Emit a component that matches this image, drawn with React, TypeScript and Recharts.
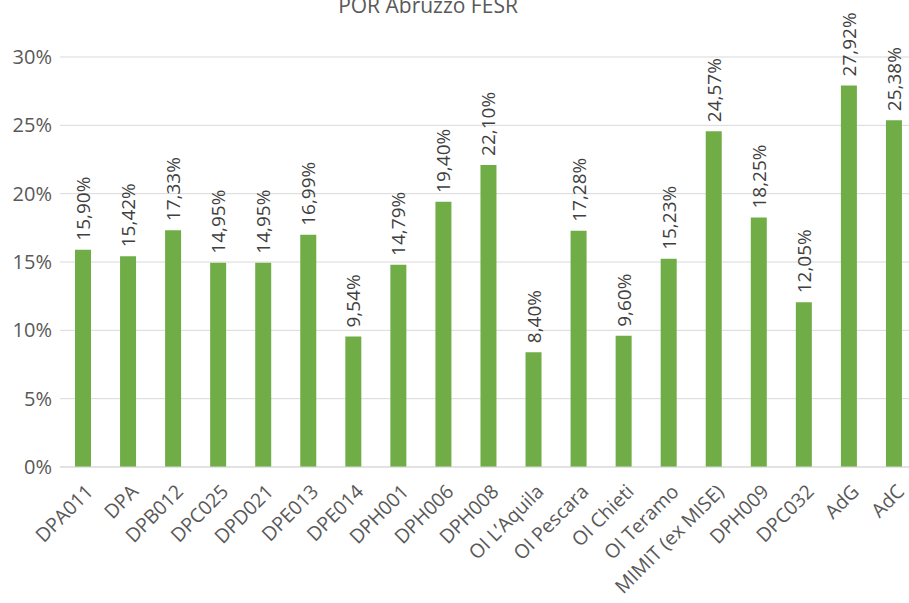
import { BarChart, Bar, XAxis, YAxis, CartesianGrid, LabelList } from "recharts";

const categories = [
  "DPA011", "DPA", "DPB012", "DPC025", "DPD021", "DPE013", "DPE014", "DPH001", "DPH006", "DPH008",
  "OI L’Aquila", "OI Pescara", "OI Chieti", "OI Teramo", "MIMIT (ex MISE)", "DPH009", "DPC032", "AdG", "AdC",
];
const percentages = [
  15.9, 15.42, 17.33, 14.95, 14.95, 16.99, 9.54, 14.79, 19.4, 22.1,
  8.4, 17.28, 9.6, 15.23, 24.57, 18.25, 12.05, 27.92, 25.38,
];
const yTicks = [0, 5, 10, 15, 20, 25, 30];

const data = categories.map((name, i) => ({ name, value: percentages[i] }));

const FONT = "'Open Sans', 'DejaVu Sans', sans-serif";

const fmt = (v: number) => v.toFixed(2).replace(".", ",") + "%";

function XTick(props: any) {
  const { x, y, payload } = props;
  const ax = x;
  const ay = y + 6;
  return (
    <text
      x={ax}
      y={ay}
      transform={`rotate(-45, ${ax}, ${ay})`}
      textAnchor="end"
      dominantBaseline="hanging"
      fill="#595959"
      fontSize={19.5}
      fontFamily={FONT}
    >
      {payload.value}
    </text>
  );
}

function BarLabel(props: any) {
  const { x, y, width, value } = props;
  const cx = x + width / 2;
  const cy = y - 9;
  return (
    <text
      x={cx}
      y={cy}
      transform={`rotate(-90, ${cx}, ${cy})`}
      textAnchor="start"
      dominantBaseline="central"
      fill="#404040"
      fontSize={19}
      fontFamily={FONT}
    >
      {fmt(value)}
    </text>
  );
}

export default function App() {
  return (
    <div
      style={{
        position: "absolute",
        left: 0,
        top: 0,
        width: 909,
        height: 603,
        overflow: "hidden",
        background: "#fff",
      }}
    >
      <BarChart
        width={916}
        height={603}
        data={data}
        margin={{ top: 57, right: 0, bottom: 0, left: 0 }}
      >
        <text x={428} y={13} textAnchor="middle" fill="#595959" fontSize={21} fontFamily={FONT}>
          POR Abruzzo FESR
        </text>
        <CartesianGrid vertical={false} stroke="#d9d9d9" />
        <XAxis
          dataKey="name"
          interval={0}
          height={136}
          tick={<XTick />}
          tickLine={false}
          axisLine={{ stroke: "#d9d9d9" }}
        />
        <YAxis
          width={60}
          domain={[0, 30]}
          ticks={yTicks}
          tickFormatter={(v) => `${v}%`}
          tick={{ fill: "#595959", fontSize: 20, fontFamily: FONT }}
          tickLine={false}
          axisLine={false}
        />
        <Bar dataKey="value" fill="#70ad47" barSize={16} isAnimationActive={false}>
          <LabelList dataKey="value" content={<BarLabel />} />
        </Bar>
      </BarChart>
    </div>
  );
}
